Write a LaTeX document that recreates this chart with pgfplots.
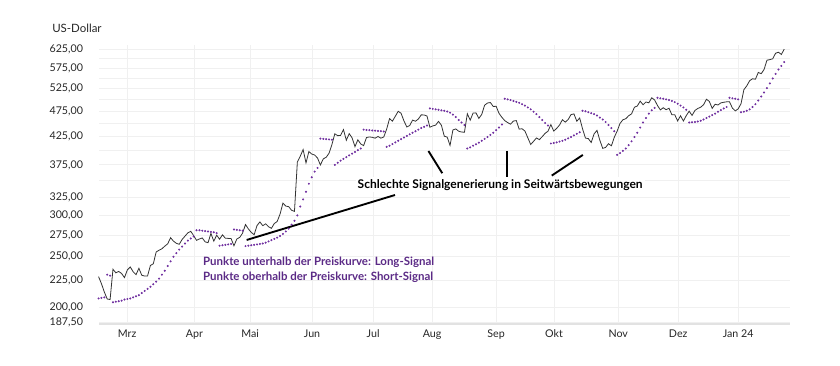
\documentclass[border=0pt]{standalone}
\usepackage{pgfplots}
\usepackage{pgfplotstable}
\pgfplotsset{compat=1.18}
\usepackage{fontspec}
\setmainfont{Lato}
\definecolor{sar}{HTML}{7030A0}
\definecolor{txtpurple}{HTML}{5B2A86}
\definecolor{gridc}{HTML}{F0F0F0}
\definecolor{axisc}{HTML}{E2E2E2}
\definecolor{pricec}{HTML}{333333}

\pgfplotstableread{
x y
-9 229
-8 222
-7 214
-6 207.5
-5 207
-4 236.6
-3 232.9
-2 234.3
-1 232.2
0 228
1 236
2 239
3 234
4 231
5 237.6
6 230.4
7 229.6
8 229.7
9 240.6
10 242.3
11 255.4
12 257.3
13 259.0
14 262.0
15 264.7
16 271.9
17 267.8
18 265.3
19 264.1
20 269.8
21 273.8
22 277.8
23 279.7
24 274.5
25 268.8
26 270.4
27 271.6
28 267.0
29 266.0
30 277.1
31 267.8
32 275.0
33 270.1
34 275.4
35 271.3
36 271.1
37 270.9
38 262.4
39 270.4
40 272.3
41 277.5
42 288.2
43 282.6
44 278.4
45 275.5
46 286.9
47 291.5
48 286.7
49 289.1
50 285.4
51 283.4
52 289.5
53 292.1
54 301.8
55 316.8
56 312.6
57 311.8
58 306.9
59 305.4
60 379.8
61 389.5
62 401.1
63 378.3
64 397.7
65 393.3
66 391.7
67 386.5
68 374.8
69 385.1
70 387.7
71 394.8
72 410.2
73 430.0
74 426.5
75 426.9
76 438.1
77 418.0
78 430.3
79 422.5
80 406.3
81 418.8
82 411.2
83 408.2
84 423.0
85 424.1
86 423.4
87 421.8
88 425.0
89 421.8
90 424.1
91 439.0
92 459.8
93 454.7
94 464.6
95 474.9
96 470.8
97 455.2
98 443.1
99 446.1
100 456.8
101 454.5
102 459.0
103 467.5
104 467.3
105 465.1
106 442.7
107 445.2
108 446.8
109 454.2
110 446.6
111 425.5
112 423.9
113 408.6
114 437.5
115 439.4
116 434.9
117 433.4
118 433.0
119 469.7
120 456.7
121 471.2
122 471.6
123 460.2
124 468.4
125 487.8
126 492.6
127 493.6
128 485.1
129 485.5
130 470.6
131 462.4
132 455.7
133 451.8
134 448.7
135 454.9
136 455.8
137 439.0
138 439.7
139 435.2
140 422.4
141 410.2
142 416.1
143 422.2
144 419.1
145 424.7
146 430.9
147 435.0
148 447.8
149 435.2
150 440.4
151 446.9
152 457.6
153 452.7
154 458.0
155 468.1
156 469.5
157 454.6
158 461.0
159 439.4
160 422.0
161 421.0
162 413.9
163 429.8
164 436.6
165 417.8
166 403.3
167 405.0
168 411.6
169 407.8
170 423.3
171 435.1
172 450.1
173 457.5
174 459.6
175 465.7
176 469.5
177 483.4
178 486.2
179 496.6
180 488.9
181 494.8
182 493.0
183 504.1
184 499.4
185 487.2
186 477.8
187 482.4
188 478.2
189 481.4
190 467.7
191 467.7
192 455.1
193 465.7
194 455.0
195 466.0
196 475.1
197 466.3
198 476.6
199 480.9
200 483.5
201 488.9
202 500.8
203 496.0
204 481.1
205 489.9
206 488.3
207 492.8
208 494.2
209 495.2
210 495.2
211 481.7
212 475.7
213 480.0
214 491.0
215 522.5
216 531.4
217 543.5
218 548.2
219 547.1
220 563.8
221 560.5
222 571.1
223 594.9
224 596.5
225 598.7
226 613.6
227 616.2
228 610.3
229 624.7
}\price

\pgfplotstableread{
x y
-9 208
-8 208.5
-7 209
-6 231
-5 230
-4 204.5
-3 205
-2 205.5
-1 206
0 207
1 207.5
2 208
3 209
4 210
5 211
6 213
7 215
8 217
9 219
10 221.5
11 224
12 227
13 231
14 235
15 240
16 245
17 250
18 254
19 258
20 261.5
21 265
22 268.5
23 271
24 273.5
25 281
26 281
27 280.5
28 280
29 279.5
30 279
31 278.5
32 277.5
33 262.5
34 263
35 263.5
36 264
37 264.5
38 282
39 281.5
40 281
41 280.5
42 262
43 262.5
44 263
45 263.5
46 264
47 264.5
48 265
49 266
50 267.5
51 269
52 270.5
53 272
54 274
55 276.5
56 279.5
57 283
58 288
59 293
60 300
61 312
62 322
63 333
64 345
65 355
66 364
67 370
68 421
69 420.5
70 420
71 419.5
72 419
73 375
74 378.5
75 382
76 385
77 388
78 391
79 394
80 397
81 400
82 403
83 438
84 437.5
85 437
86 436.5
87 436
88 435.5
89 435
90 434.5
91 406
92 408
93 411
94 414
95 417
96 420
97 423
98 426
99 429
100 432
101 435
102 438
103 441
104 443.5
105 446
106 481
107 480
108 479
109 478
110 477
111 476
112 474.5
113 472
114 468
115 463
116 457
117 452
118 447
119 403
120 405
121 408
122 410.5
123 413.5
124 417
125 420.5
126 424
127 428
128 432
129 437
130 442
131 448
132 502
133 500.5
134 499
135 497
136 495
137 493
138 490
139 487
140 483
141 479
142 474
143 469
144 463
145 457
146 451
147 446
148 412
149 413
150 414
151 415.5
152 417
153 419
154 421.5
155 424
156 427
157 430
158 433
159 476
160 475
161 473
162 471
163 469
164 466
165 462
166 458
167 453
168 447
169 441
170 435
171 392
172 395
173 399
174 403
175 409
176 416
177 424
178 432
179 442
180 452
181 461
182 470
183 477
184 482
185 504
186 503
187 502
188 500.5
189 499
190 497
191 494.5
192 491
193 487
194 483
195 478
196 452
197 452.5
198 453
199 454
200 455.5
201 458
202 461
203 464
204 467
205 470
206 474
207 477.5
208 481
209 484
210 504
211 503
212 502
213 500.5
214 473
215 474
216 476
217 479
218 484
219 490
220 498
221 507
222 516
223 526
224 537
225 549
226 560
227 571
228 580
229 590
}\sar

\begin{document}
\begin{tikzpicture}[x=1pt,y=1pt]
\path[use as bounding box] (-74.25,-30.75) rectangle (555.75,243);
\begin{axis}[
  at={(0,0)}, anchor=south west,
  width=518.25pt, height=209.25pt, scale only axis,
  xmin=-8.85, xmax=231,
  ymode=log, ymin=185.85, ymax=636.3,
  clip=false,
  axis x line=bottom, axis y line=left,
  x axis line style={draw=axisc, line width=1.5pt, -},
  y axis line style={draw=none},
  xtick={0.9,24.3,43.6,65.1,86.3,106.8,129,149.1,171.4,192.2,213},
  xticklabels={Mrz,Apr,Mai,Jun,Jul,Aug,Sep,Okt,Nov,Dez,Jan 24},
  ytick={187.5,200,225,250,275,300,325,350,375,400,425,450,475,500,525,550,575,600,625},
  yticklabels={{187,50},{200,00},{225,00},{250,00},{275,00},{300,00},{325,00},{},{375,00},{},{425,00},{},{475,00},{},{525,00},{},{575,00},{},{625,00}},
  major tick length=0pt,
  tick style={draw=none},
  xmajorgrids, ymajorgrids,
  grid style={draw=gridc, line width=0.6pt},
  ticklabel style={font=\fontsize{8.0}{10}\selectfont, text=black!85},
  xticklabel style={yshift=-1pt},
  yticklabel style={anchor=east, xshift=-8.5pt},
]
\addplot[pricec, line width=0.6pt] table[x=x,y=y] {\price};
\addplot[only marks, mark=*, mark size=0.55pt, color=sar, mark options={draw=none, fill=sar}] table[x=x,y=y] {\sar};

\draw[line width=1.4pt, black] (axis cs:42.4,269.2) -- (axis cs:93.9,328.3);
\draw[line width=1.4pt, black] (axis cs:105.5,398.7) -- (axis cs:110.3,361.4);
\draw[line width=1.4pt, black] (axis cs:132.7,398.7) -- (axis cs:132.7,355.2);
\draw[line width=1.4pt, black] (axis cs:159.1,391.8) -- (axis cs:148.3,357.7);
\node[font=\bfseries\fontsize{9.0}{11}\selectfont, fill=white, inner sep=1.5pt] at (axis cs:130.4,343.3) {Schlechte Signalgenerierung in Seitwärtsbewegungen};
\node[anchor=west, align=left, text=txtpurple, font=\bfseries\fontsize{8.6}{11.25}\selectfont, inner sep=0pt] at (axis cs:27.2,236.4) {Punkte unterhalb der Preiskurve: Long-Signal\\Punkte oberhalb der Preiskurve: Short-Signal};
\end{axis}
\node[anchor=west, inner sep=0pt, font=\fontsize{8.6}{10}\selectfont, text=black!85] at (-35.25,222) {US-Dollar};
\end{tikzpicture}
\end{document}
